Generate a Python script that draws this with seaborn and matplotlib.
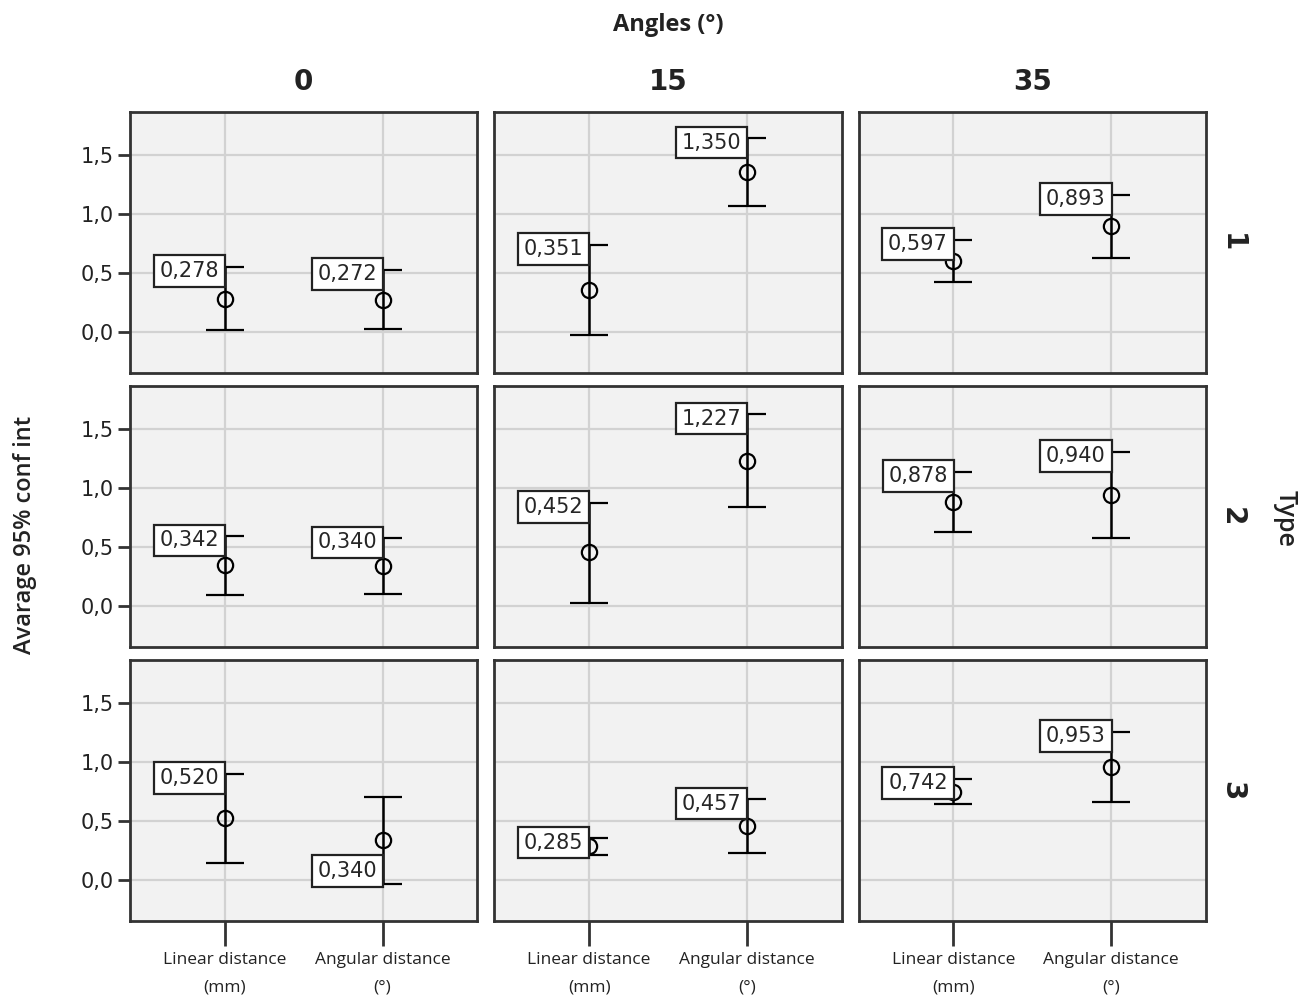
import matplotlib
matplotlib.use("Agg")
import matplotlib.pyplot as plt
import seaborn as sns
import pandas as pd
from matplotlib.ticker import FuncFormatter, FixedLocator

# ---------------- data ----------------
angles = ["0", "15", "35"]
types = ["1", "2", "3"]
measures = ["Linear distance\n(mm)", "Angular distance\n(°)"]

# rows: type, within row: angle 0 (lin, ang), 15 (lin, ang), 35 (lin, ang)
means_t1 = [0.278, 0.272, 0.351, 1.350, 0.597, 0.893]
means_t2 = [0.342, 0.340, 0.452, 1.227, 0.878, 0.940]
means_t3 = [0.520, 0.340, 0.285, 0.457, 0.742, 0.953]

lower_t1 = [0.017, 0.025, -0.025, 1.060, 0.424, 0.627]
lower_t2 = [0.094, 0.102, 0.026, 0.835, 0.622, 0.571]
lower_t3 = [0.145, -0.034, 0.213, 0.230, 0.640, 0.656]

upper_t1 = [0.550, 0.525, 0.737, 1.636, 0.780, 1.160]
upper_t2 = [0.588, 0.571, 0.870, 1.620, 1.134, 1.300]
upper_t3 = [0.895, 0.700, 0.350, 0.680, 0.853, 1.250]

rows = []
for t, mm, lo, up in zip(types, [means_t1, means_t2, means_t3],
                         [lower_t1, lower_t2, lower_t3],
                         [upper_t1, upper_t2, upper_t3]):
    k = 0
    for a in angles:
        for m in measures:
            rows.append(dict(Type=t, Angle=a, Measure=m, mean=mm[k],
                             lower=lo[k], upper=up[k]))
            k += 1
df = pd.DataFrame(rows)
df["Measure"] = pd.Categorical(df["Measure"], categories=measures)

# ---------------- style ----------------
sns.set_theme(style="whitegrid")
plt.rcParams["font.family"] = ["DejaVu Sans"]

BG = "#f2f2f2"
GRID = "#d2d2d2"
FRAME = "#333333"


def fmt(v):
    return f"{v:.3f}".replace(".", ",")


BOX = dict(boxstyle="square,pad=0.28", fc="white", ec="#222222", lw=1.6)


def draw(data, **kw):
    ax = plt.gca()
    x = data["Measure"].cat.codes.to_numpy()
    y = data["mean"].to_numpy()
    lo = data["lower"].to_numpy()
    up = data["upper"].to_numpy()
    ax.errorbar(x, y, yerr=[y - lo, up - y], fmt="o", mfc="none", mec="black",
                ms=11, mew=1.6, ecolor="black", elinewidth=1.8, capsize=14,
                capthick=1.8, zorder=3)
    for xi, yi, li, ui in zip(x, y, lo, up):
        if li < 0 and ui < 0.75 and yi < 0.35 and xi == 1:
            # label sits near the lower end in this panel
            ax.annotate(fmt(yi), xy=(xi, li), xytext=(-4, 2),
                        textcoords="offset points", ha="right", va="bottom",
                        fontsize=15, zorder=4, bbox=BOX)
        else:
            ax.annotate(fmt(yi), xy=(xi, ui), xytext=(-4, -3),
                        textcoords="offset points", ha="right", va="center",
                        fontsize=15, zorder=4, bbox=BOX)


g = sns.FacetGrid(df, row="Type", col="Angle", row_order=types,
                  col_order=angles, sharex=True, sharey=True,
                  height=3, aspect=1.3, despine=False)
g.map_dataframe(draw)
g.set_titles(template="")
g.set_axis_labels("", "")

fig = g.figure
fig.set_size_inches(13.11, 10.02)
fig.subplots_adjust(left=130 / 1311, right=1206 / 1311, top=1 - 112 / 1002,
                    bottom=1 - 921 / 1002, wspace=0.049, hspace=0.05)

for i in range(3):
    for j in range(3):
        ax = g.axes[i, j]
        ax.set_facecolor(BG)
        ax.set_xlim(-0.6, 1.6)
        ax.set_ylim(-0.35, 1.86)
        ax.yaxis.set_major_locator(FixedLocator([0.0, 0.5, 1.0, 1.5]))
        ax.xaxis.set_major_locator(FixedLocator([0, 1]))
        ax.yaxis.set_major_formatter(
            FuncFormatter(lambda v, p: f"{v:.1f}".replace(".", ",")))
        ax.grid(True, color=GRID, lw=1.6)
        ax.set_axisbelow(True)
        for s in ax.spines.values():
            s.set_visible(True)
            s.set_color(FRAME)
            s.set_linewidth(2)
        if j == 0:
            ax.tick_params(axis="y", left=True, length=9, width=2,
                           color=FRAME, labelsize=15, pad=3,
                           labelcolor="#222222")
        else:
            ax.tick_params(axis="y", left=False, labelleft=False)
        if i == 2:
            ax.set_xticks([0, 1])
            ax.set_xticklabels(measures, fontsize=12.5, family="Open Sans",
                               linespacing=2.0, color="#222222")
            ax.tick_params(axis="x", bottom=True, length=18, width=2,
                           color=FRAME, pad=4)
        else:
            ax.tick_params(axis="x", bottom=False, labelbottom=False)

# column headers
for j, a in enumerate(angles):
    ax = g.axes[0, j]
    ax.text(0.5, 1.06, a, transform=ax.transAxes, ha="center", va="bottom",
            fontsize=20, fontweight="bold", color="#222222")

# row headers
for i, t in enumerate(types):
    ax = g.axes[i, 2]
    ax.text(1.075, 0.5, t, transform=ax.transAxes, ha="center", va="center",
            rotation=270, fontsize=20, fontweight="bold", color="#222222")

fig.text(668 / 1311, 1 - 25 / 1002, "Angles (°)", ha="center", va="center",
         fontsize=17, fontweight="bold", family="Open Sans",
         color="#222222")
fig.text(1285 / 1311, 1 - 518 / 1002, "Type", ha="center", va="center",
         rotation=270, fontsize=18, fontweight="semibold", family="Open Sans",
         color="#222222")
fig.text(25 / 1311, 1 - 535 / 1002, "Avarage 95% conf int", ha="center",
         va="center", rotation=90, fontsize=17, fontweight="semibold",
         family="Open Sans", color="#222222")

fig.savefig("out.png", dpi=100, facecolor="white")
